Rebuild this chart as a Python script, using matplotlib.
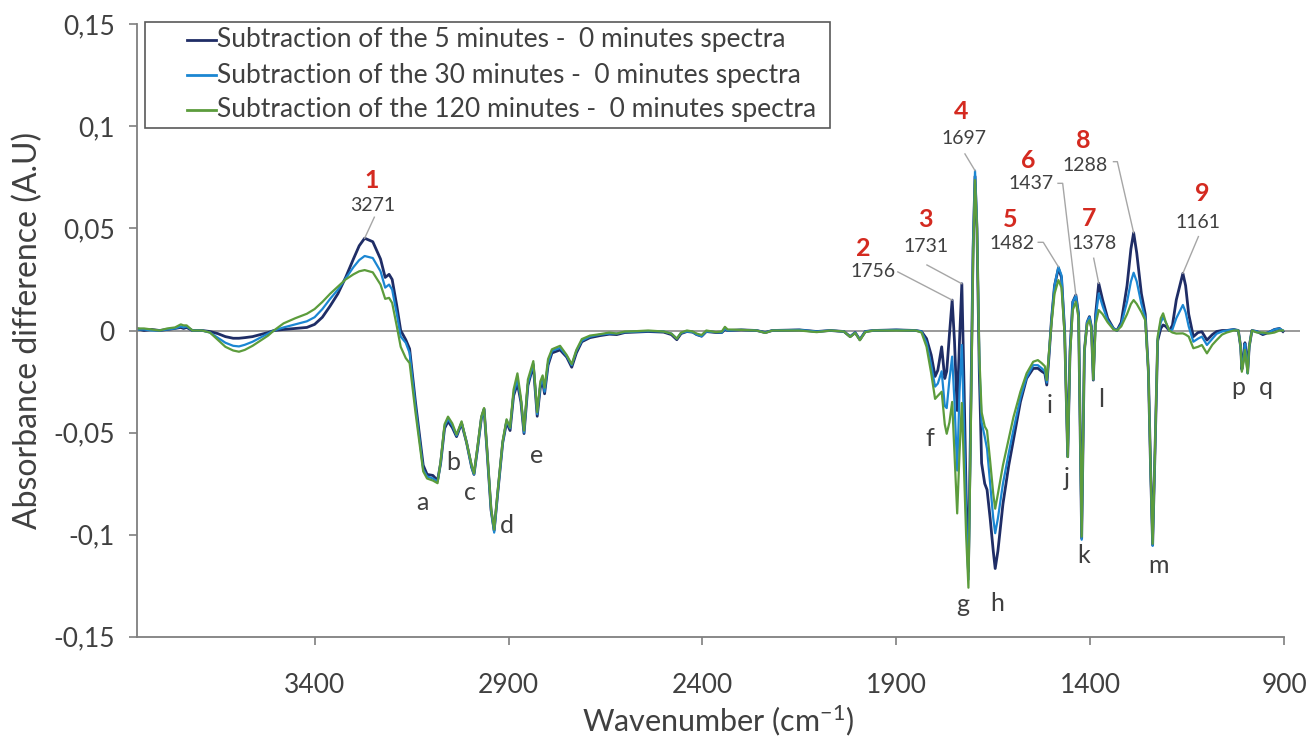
import matplotlib
matplotlib.use("Agg")
import matplotlib.pyplot as plt
from matplotlib.patches import Rectangle
from matplotlib.lines import Line2D

plt.rcParams['font.family'] = ['Lato', 'DejaVu Sans']
plt.rcParams['mathtext.default'] = 'regular'

# ---- spectra (wavenumber in cm-1, absorbance difference in A.U.) ----
wavenumber = [
    3860, 3840, 3820, 3800, 3780, 3760, 3745, 3738, 3730, 3715, 3690, 3670, 3650, 3630,
    3610, 3595, 3580, 3560, 3540, 3520, 3505, 3480, 3450, 3420, 3400, 3380, 3360, 3340,
    3320, 3300, 3285, 3271, 3250, 3230, 3218, 3208, 3200, 3188, 3178, 3165, 3155, 3140,
    3120, 3110, 3095, 3083, 3075, 3065, 3056, 3045, 3034, 3021, 3008, 2995, 2989, 2980,
    2970, 2963, 2955, 2945, 2937, 2928, 2915, 2905, 2896, 2887, 2877, 2868, 2860, 2850,
    2836, 2826, 2818, 2812, 2807, 2798, 2788, 2767, 2750, 2737, 2725, 2711, 2690, 2664,
    2640, 2621, 2600, 2578, 2540, 2500, 2480, 2466, 2455, 2440, 2425, 2415, 2402, 2390,
    2365, 2350, 2342, 2335, 2300, 2260, 2238, 2220, 2150, 2105, 2070, 2035, 2019, 2006,
    1994, 1980, 1960, 1900, 1850, 1835, 1822, 1810, 1800, 1793, 1783, 1775, 1770, 1763,
    1756, 1750, 1743, 1737, 1731, 1725, 1720, 1714, 1708, 1702, 1697, 1692, 1686, 1680,
    1672, 1666, 1658, 1650, 1645, 1638, 1625, 1610, 1598, 1580, 1564, 1547, 1535, 1525,
    1517, 1512, 1506, 1500, 1492, 1482, 1474, 1466, 1458, 1452, 1445, 1437, 1430, 1422,
    1415, 1408, 1402, 1397, 1392, 1386, 1378, 1368, 1355, 1340, 1331, 1320, 1305, 1295,
    1288, 1280, 1268, 1258, 1250, 1244, 1239, 1233, 1226, 1218, 1212, 1205, 1196, 1188,
    1178, 1161, 1154, 1146, 1134, 1122, 1112, 1099, 1085, 1074, 1060, 1048, 1030, 1018,
    1012, 1009, 1004, 1001, 997, 994, 990, 983, 970, 955, 940, 925, 912, 903,
]

sub_5min = [
    0.001, 0.0, 0.0005, 0.0, 0.0005, 0.001, 0.0015, 0.001, 0.0015, 0.0, 0.0, -0.0005, -0.0015, -0.003,
    -0.0038, -0.0038, -0.0035, -0.003, -0.002, -0.001, 0.0, 0.0005, 0.001, 0.0015, 0.003, 0.0065, 0.012, 0.018,
    0.026, 0.035, 0.0415, 0.0452, 0.0435, 0.035, 0.026, 0.0275, 0.025, 0.012, 0.0, -0.0045, -0.009, -0.035,
    -0.066, -0.0705, -0.071, -0.0735, -0.065, -0.048, -0.0445, -0.0475, -0.052, -0.0455, -0.055, -0.067, -0.0705, -0.058,
    -0.043, -0.0385, -0.06, -0.088, -0.098, -0.08, -0.055, -0.045, -0.049, -0.032, -0.026, -0.035, -0.0505, -0.027,
    -0.017, -0.042, -0.028, -0.025, -0.031, -0.017, -0.011, -0.0095, -0.013, -0.018, -0.011, -0.0055, -0.0035, -0.0025,
    -0.0018, -0.002, -0.001, -0.0008, -0.0005, -0.0008, -0.002, -0.0045, -0.0015, -0.0005, -0.0008, -0.002, -0.0028, -0.0005,
    -0.001, -0.001, 0.0005, 0.0, 0.0003, 0.0, -0.001, 0.0, 0.0003, -0.0005, 0.0, -0.0005, -0.003, -0.001,
    -0.0045, -0.0005, 0.0, 0.0003, 0.0, -0.0005, -0.004, -0.012, -0.0225, -0.0195, -0.008, -0.0235, -0.02, -0.002,
    0.0149, -0.005, -0.0392, -0.005, 0.0229, -0.03, -0.08, -0.118, -0.04, 0.04, 0.0755, 0.05, -0.02, -0.065,
    -0.075, -0.078, -0.092, -0.108, -0.1166, -0.108, -0.085, -0.066, -0.0537, -0.035, -0.0235, -0.0186, -0.0185, -0.02,
    -0.021, -0.0267, -0.012, 0.005, 0.022, 0.0305, 0.026, 0.0, -0.0618, -0.01, 0.014, 0.0174, 0.008, -0.1018,
    -0.01, 0.004, 0.0068, 0.002, -0.0243, 0.008, 0.0231, 0.015, 0.006, 0.001, 0.0, 0.004, 0.022, 0.04,
    0.0479, 0.038, 0.018, 0.008, -0.02, -0.07, -0.1051, -0.06, -0.005, 0.001, 0.0027, 0.002, 0.0, 0.0025,
    0.015, 0.028, 0.022, 0.008, -0.003, -0.001, -0.0006, -0.0047, -0.002, -0.0005, 0.0, 0.0, 0.0005, 0.0,
    -0.008, -0.019, -0.012, -0.006, -0.012, -0.0205, -0.008, 0.0, -0.0005, -0.002, -0.001, 0.0005, 0.001, -0.0005,
]

sub_30min = [
    0.0005, 0.0005, 0.0, 0.0, 0.0005, 0.001, 0.002, 0.0015, 0.002, 0.0, 0.0, -0.001, -0.0035, -0.006,
    -0.0075, -0.0078, -0.007, -0.0055, -0.0035, -0.0015, 0.0, 0.0015, 0.003, 0.0045, 0.0065, 0.0105, 0.0155, 0.02,
    0.0255, 0.031, 0.0345, 0.0365, 0.0355, 0.029, 0.021, 0.0225, 0.02, 0.008, -0.003, -0.006, -0.011, -0.037,
    -0.068, -0.0715, -0.0725, -0.074, -0.065, -0.047, -0.0432, -0.0465, -0.0515, -0.045, -0.055, -0.067, -0.0705, -0.058,
    -0.043, -0.0385, -0.06, -0.088, -0.099, -0.08, -0.055, -0.044, -0.048, -0.031, -0.024, -0.034, -0.05, -0.026,
    -0.0162, -0.041, -0.027, -0.0235, -0.03, -0.016, -0.01, -0.0085, -0.0125, -0.017, -0.01, -0.005, -0.003, -0.002,
    -0.0015, -0.0015, -0.0008, -0.0006, -0.0003, -0.0005, -0.0015, -0.004, -0.0012, -0.0005, -0.0008, -0.002, -0.0028, -0.0005,
    -0.0008, -0.001, 0.0008, 0.0, 0.0003, 0.0, -0.001, 0.0, 0.0003, -0.0005, 0.0, -0.0005, -0.003, -0.001,
    -0.0045, -0.0005, 0.0, 0.0003, 0.0, -0.0005, -0.006, -0.017, -0.0275, -0.026, -0.02, -0.037, -0.038, -0.024,
    -0.0128, -0.035, -0.0686, -0.03, -0.0071, -0.05, -0.09, -0.122, -0.045, 0.042, 0.0783, 0.052, -0.015, -0.045,
    -0.052, -0.058, -0.075, -0.092, -0.0993, -0.092, -0.075, -0.06, -0.0487, -0.033, -0.023, -0.017, -0.017, -0.0185,
    -0.02, -0.0255, -0.011, 0.005, 0.022, 0.0312, 0.027, 0.0, -0.0618, -0.01, 0.014, 0.017, 0.008, -0.1025,
    -0.01, 0.004, 0.0065, 0.002, -0.024, 0.006, 0.0182, 0.012, 0.005, 0.001, 0.0, 0.003, 0.014, 0.024,
    0.0283, 0.024, 0.013, 0.006, -0.02, -0.07, -0.1055, -0.06, -0.004, 0.004, 0.0065, 0.004, 0.0, 0.0005,
    0.006, 0.0125, 0.009, 0.002, -0.0055, -0.004, -0.003, -0.0071, -0.004, -0.0016, -0.0005, 0.0, 0.0005, 0.0,
    -0.008, -0.0195, -0.013, -0.0065, -0.014, -0.021, -0.008, 0.0, -0.0005, -0.0015, -0.001, 0.0005, 0.001, 0.0,
]

sub_120min = [
    0.001, 0.001, 0.0005, 0.0, 0.001, 0.0015, 0.003, 0.0025, 0.0025, 0.0, 0.0, -0.001, -0.0045, -0.008,
    -0.0098, -0.0104, -0.0095, -0.0075, -0.005, -0.0025, 0.0, 0.0035, 0.006, 0.0082, 0.0105, 0.014, 0.018, 0.0215,
    0.025, 0.0275, 0.029, 0.0296, 0.0285, 0.0225, 0.0155, 0.016, 0.0135, 0.002, -0.008, -0.0135, -0.016, -0.04,
    -0.069, -0.0725, -0.0735, -0.0748, -0.064, -0.046, -0.0422, -0.0455, -0.051, -0.0445, -0.055, -0.066, -0.07, -0.057,
    -0.042, -0.038, -0.059, -0.087, -0.0975, -0.079, -0.054, -0.0435, -0.0475, -0.029, -0.021, -0.033, -0.049, -0.024,
    -0.015, -0.04, -0.025, -0.022, -0.028, -0.014, -0.0092, -0.0075, -0.012, -0.0165, -0.0095, -0.0042, -0.0025, -0.0018,
    -0.001, -0.0015, -0.0005, -0.0004, 0.0, -0.0005, -0.0015, -0.004, -0.001, 0.0, -0.0005, -0.0015, -0.0022, 0.0,
    -0.0008, -0.0005, 0.0018, 0.0005, 0.0003, 0.0, -0.0012, 0.0, 0.0, -0.0008, 0.0, -0.0005, -0.0032, -0.0012,
    -0.0048, -0.0008, 0.0, 0.0, 0.0, -0.001, -0.008, -0.021, -0.0335, -0.032, -0.03, -0.046, -0.0506, -0.045,
    -0.035, -0.06, -0.0896, -0.06, -0.0355, -0.07, -0.1, -0.126, -0.05, 0.035, 0.0737, 0.05, -0.012, -0.04,
    -0.047, -0.049, -0.064, -0.08, -0.0873, -0.08, -0.066, -0.053, -0.0425, -0.03, -0.021, -0.0153, -0.0145, -0.016,
    -0.0175, -0.0243, -0.01, 0.003, 0.018, 0.0247, 0.021, -0.002, -0.062, -0.012, 0.01, 0.0141, 0.006, -0.101,
    -0.01, 0.003, 0.005, 0.001, -0.024, 0.003, 0.01, 0.008, 0.004, 0.0005, 0.0, 0.002, 0.008, 0.013,
    0.0149, 0.013, 0.009, 0.005, -0.02, -0.07, -0.1045, -0.06, -0.003, 0.006, 0.0084, 0.004, 0.0, -0.001,
    -0.0015, -0.0014, -0.002, -0.003, -0.0087, -0.008, -0.0071, -0.0112, -0.007, -0.0047, -0.002, -0.001, 0.0, 0.0,
    -0.008, -0.0202, -0.015, -0.0095, -0.016, -0.021, -0.008, 0.0, -0.001, -0.001, -0.0015, -0.001, 0.0, 0.0,
]

series_labels = [
    "Subtraction of the 5 minutes -  0 minutes spectra",
    "Subtraction of the 30 minutes -  0 minutes spectra",
    "Subtraction of the 120 minutes -  0 minutes spectra",
]
series_colors = ["#1f2d66", "#1b86d2", "#5c9c3c"]
series_widths = [2.0, 1.6, 1.6]

# numbered bands and where their captions sit (wavenumber, absorbance)
band_numbers = ["1", "2", "3", "4", "5", "6", "7", "8", "9"]
band_wavenumbers = [3271, 1756, 1731, 1697, 1482, 1437, 1378, 1288, 1161]
band_peak_values = [0.0452, 0.0149, 0.0229, 0.0783, 0.0312, 0.0174, 0.0231, 0.0479, 0.0280]
number_pos = [(3254, 0.0735), (1986, 0.0404), (1826, 0.0542), (1734, 0.1072), (1607, 0.0546),
              (1560, 0.0835), (1403, 0.0550), (1419, 0.0933), (1112, 0.0672)]
caption_pos = [(3250, 0.0612), (1960, 0.0287), (1823, 0.0410), (1725, 0.0942), (1602, 0.0427),
               (1553, 0.0718), (1391, 0.0427), (1413, 0.0810), (1121, 0.0528)]
leader_start = [[(3246, 0.0555)], [(1896, 0.0287)], [(1821, 0.0321)], [(1723, 0.0865)],
                [(1534, 0.0432), (1521, 0.0432)], [(1483, 0.0721), (1471, 0.0721)],
                [(1391, 0.0354)], [(1340, 0.0827), (1330, 0.0827)], [(1121, 0.0460)]]

# lettered minima
letter_labels = ["a", "b", "c", "d", "e", "f", "g", "h", "i", "j", "k", "l", "m", "p", "q"]
letter_wavenumbers = [3121, 3043, 2999, 2904, 2827, 1813, 1728, 1640, 1506, 1460, 1418, 1372, 1225, 1019, 946]
letter_values = [-0.0845, -0.0649, -0.0796, -0.0953, -0.0610, -0.0527, -0.1340, -0.1335, -0.0365, -0.0723,
                 -0.1100, -0.0340, -0.1149, -0.0277, -0.0277]

xticks = [3400, 2900, 2400, 1900, 1400, 900]
yticks = [-0.15, -0.1, -0.05, 0, 0.05, 0.1, 0.15]
ytick_labels = ["-0,15", "-0,1", "-0,05", "0", "0,05", "0,1", "0,15"]

W, H = 1312, 736
fig = plt.figure(figsize=(W / 100, H / 100), dpi=100)
ax = fig.add_axes([137 / W, (H - 636.7) / H, (1300 - 137) / W, 612.4 / H])

ax.axhline(0, color="#7f7f7f", lw=1.1, zorder=1)

values = [sub_5min, sub_30min, sub_120min]
for vals, col, lw in zip(values, series_colors, series_widths):
    ax.plot(wavenumber, vals, color=col, lw=lw, zorder=2, solid_joinstyle="round")

ax.set_xlim(3858, 859)
ax.set_ylim(-0.15, 0.15)
ax.set_xticks(xticks)
ax.set_xticklabels([str(t) for t in xticks])
ax.set_yticks(yticks)
ax.set_yticklabels(ytick_labels)

for side in ("top", "right"):
    ax.spines[side].set_visible(False)
for side in ("left", "bottom"):
    ax.spines[side].set_color("#7f7f7f")
    ax.spines[side].set_linewidth(1.3)
ax.spines["bottom"].set_bounds(3858, 900)

ax.tick_params(axis="both", colors="#7f7f7f", length=6, width=1.2, direction="out",
               labelcolor="#404040", labelsize=19)
ax.tick_params(axis="y", pad=10)
ax.tick_params(axis="x", pad=20)

ax.set_xlabel("Wavenumber (cm$^{-1}$)", fontsize=22, color="#404040", labelpad=4)
ax.set_ylabel("Absorbance difference (A.U)", fontsize=23, color="#404040", labelpad=7)

# band annotations: red number, grey wavenumber and a leader to the peak
for num, wn, pk, npos, cpos, start in zip(band_numbers, band_wavenumbers, band_peak_values,
                                          number_pos, caption_pos, leader_start):
    pts = start + [(wn, pk)]
    xs, ys = zip(*pts)
    ax.plot(xs, ys, color="#a6a6a6", lw=1.0, zorder=3)
    ax.text(npos[0], npos[1], num, color="#d42a20", fontsize=18, fontweight="bold",
            ha="center", va="center", zorder=4)
    ax.text(cpos[0], cpos[1], str(wn), color="#404040", fontsize=14,
            ha="center", va="center", zorder=4)

for lab, wn, val in zip(letter_labels, letter_wavenumbers, letter_values):
    ax.text(wn, val, lab, color="#404040", fontsize=18, ha="center", va="center", zorder=4)

# legend box drawn in figure pixels
def fx(px):
    return px / W

def fy(py):
    return 1 - py / H

fig.patches.append(Rectangle((fx(145), fy(128.3)), fx(830) - fx(145), fy(22.3) - fy(128.3),
                             transform=fig.transFigure, facecolor="white", edgecolor="#595959",
                             lw=1.2, zorder=5))
for i, (lab, col) in enumerate(zip(series_labels, series_colors)):
    yrow = fy(40 + 35 * i)
    fig.lines.append(Line2D([fx(187), fx(216)], [yrow, yrow], transform=fig.transFigure,
                            color=col, lw=2.0, zorder=6))
    fig.text(fx(217), yrow, lab, fontsize=19, color="#404040", ha="left", va="center", zorder=6)

fig.savefig("out.png", dpi=100)
